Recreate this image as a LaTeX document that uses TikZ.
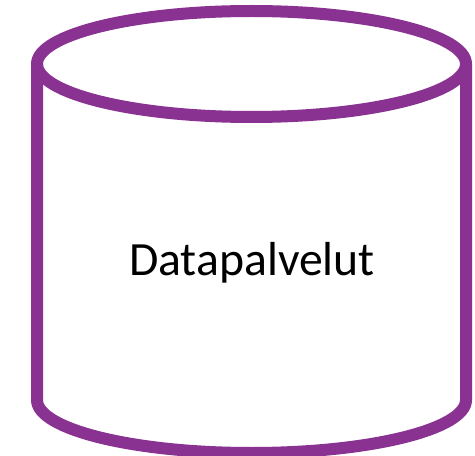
\documentclass[tikz,border=0pt]{standalone}
\usepackage{fontspec}
\setmainfont{Carlito}
\definecolor{cylpurple}{HTML}{8A3291}
\tikzset{cyl/.style={draw=cylpurple,line width=9pt,line join=round}}
\begin{document}
\begin{tikzpicture}[x=1pt,y=-1pt,scale=0.75]
\useasboundingbox (0,0) rectangle (475,456);
\fill[white] (0,0) rectangle (475,456);
\draw[cyl] (37,64) -- (37,400) arc[start angle=180,end angle=0,x radius=214.5,y radius=53] -- (466,64);
\draw[cyl] (251.5,64) ellipse[x radius=214.5,y radius=53];
\node[font=\fontsize{35.8pt}{42pt}\selectfont,text=black] (label) at (252,263) {Datapalvelut};
\end{tikzpicture}
\end{document}
